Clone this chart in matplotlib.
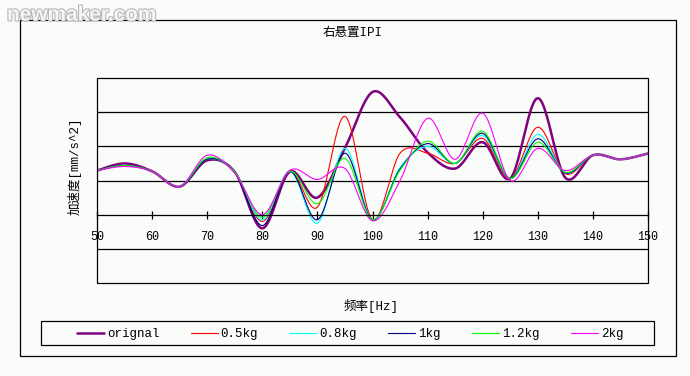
import numpy as np
import matplotlib
matplotlib.use('Agg')
import matplotlib.pyplot as plt
from matplotlib.patches import Rectangle
import matplotlib.patheffects as pe

plt.rcParams['font.family'] = ['Liberation Mono', 'Noto Sans CJK SC', 'DejaVu Sans']

# frequency points [Hz]
freq = [50, 55, 60, 65, 70, 75, 80, 85, 90, 95, 100,
        105, 110, 115, 120, 125, 130, 135, 140, 145, 150]

orignal = [1.29, 1.50, 1.27, 0.82, 1.59, 1.25, -0.40, 1.26, 0.50, 1.95, 3.59,
           2.85, 1.82, 1.35, 2.12, 1.06, 3.41, 1.08, 1.74, 1.62, 1.79]
kg05 = [1.29, 1.44, 1.27, 0.82, 1.62, 1.25, -0.20, 1.27, 0.22, 2.88, -0.15,
        1.80, 1.80, 1.50, 2.23, 1.06, 2.56, 1.20, 1.74, 1.62, 1.79]
kg08 = [1.29, 1.44, 1.27, 0.82, 1.62, 1.25, -0.15, 1.27, -0.25, 1.94, -0.15,
        1.38, 2.00, 1.50, 2.32, 1.06, 2.35, 1.22, 1.74, 1.62, 1.79]
kg1 = [1.29, 1.44, 1.27, 0.82, 1.62, 1.25, -0.32, 1.27, -0.15, 1.80, -0.15,
       1.34, 2.08, 1.50, 2.38, 1.06, 2.22, 1.22, 1.74, 1.62, 1.79]
kg12 = [1.29, 1.44, 1.27, 0.82, 1.67, 1.25, -0.08, 1.27, 0.32, 1.65, -0.15,
        1.30, 2.15, 1.50, 2.44, 1.06, 2.12, 1.24, 1.74, 1.62, 1.79]
kg2 = [1.29, 1.41, 1.27, 0.82, 1.74, 1.22, 0.00, 1.30, 1.03, 1.35, -0.18,
       1.00, 2.82, 1.62, 2.97, 1.00, 1.94, 1.29, 1.74, 1.62, 1.79]

labels = ['orignal', '0.5kg', '0.8kg', '1kg', '1.2kg', '2kg']
series = [orignal, kg05, kg08, kg1, kg12, kg2]
colors = ['#800080', '#ff0000', '#00ffff', '#000080', '#00ff00', '#ff00ff']
widths = [1.8, 0.8, 0.8, 0.8, 0.8, 0.8]
xticks = [50, 60, 70, 80, 90, 100, 110, 120, 130, 140, 150]


def smooth(x, y, n=24):
    # excel style smoothed line (catmull-rom bezier)
    x = np.asarray(x, float)
    y = np.asarray(y, float)
    px = np.concatenate([[x[0]], x, [x[-1]]])
    py = np.concatenate([[y[0]], y, [y[-1]]])
    t = np.linspace(0, 1, n, endpoint=False)
    xs, ys = [], []
    for i in range(1, len(px) - 2):
        p0 = np.array([px[i], py[i]])
        p3 = np.array([px[i + 1], py[i + 1]])
        p1 = p0 + (np.array([px[i + 1], py[i + 1]]) - np.array([px[i - 1], py[i - 1]])) / 6
        p2 = p3 - (np.array([px[i + 2], py[i + 2]]) - np.array([px[i], py[i]])) / 6
        b = ((1 - t) ** 3)[:, None] * p0 + (3 * (1 - t) ** 2 * t)[:, None] * p1 \
            + (3 * (1 - t) * t ** 2)[:, None] * p2 + (t ** 3)[:, None] * p3
        xs.extend(b[:, 0])
        ys.extend(b[:, 1])
    xs.append(x[-1])
    ys.append(y[-1])
    return np.array(xs), np.array(ys)


bg = '#f9fcf9'
fig = plt.figure(figsize=(6.9, 3.76), dpi=100, facecolor=bg)
W, H = 690.0, 376.0

ax = fig.add_axes([97 / W, 1 - 283 / H, 551 / W, 205 / H])
ax.set_facecolor(bg)

handles = []
for vals, c, lw, lab in zip(series, colors, widths, labels):
    sx, sy = smooth(freq, vals)
    h, = ax.plot(sx, sy, color=c, lw=lw, label=lab, solid_capstyle='round')
    handles.append(h)

ax.set_xlim(50, 150)
ax.set_ylim(-2, 4)
ax.set_yticks([-1, 1, 2, 3])
ax.yaxis.grid(True, color='black', lw=0.9)
ax.tick_params(axis='y', length=0, labelleft=False)
ax.set_axisbelow(True)

for s in ['top', 'left', 'right']:
    ax.spines[s].set_visible(False)
ax.spines['bottom'].set_position(('data', 0))
ax.spines['bottom'].set_linewidth(0.9)
ax.set_xticks(xticks)
ax.tick_params(axis='x', direction='inout', length=6, width=0.9, pad=9, labelsize=8.5)
ax.add_patch(Rectangle((0, 0), 1, 1, transform=ax.transAxes, fill=False,
                       lw=0.9, ec='black', zorder=3, clip_on=False))

# outer chart frame
fig.patches.append(Rectangle((20 / W, 1 - 356 / H), 656 / W, 336 / H, transform=fig.transFigure,
                             fill=False, lw=0.9, ec='black'))
# legend frame
fig.patches.append(Rectangle((41 / W, 1 - 345 / H), 613 / W, 24 / H, transform=fig.transFigure,
                             fill=False, lw=0.9, ec='black'))

fig.text(353 / W, 1 - 33 / H, '右悬置IPI', ha='center', va='center', fontsize=9)
fig.text(75 / W, 1 - 166 / H, '加速度[mm/s^2]', ha='center', va='center', rotation=90, fontsize=9)
fig.text(371 / W, 1 - 306 / H, '频率[Hz]', ha='center', va='center', fontsize=9)

fig.legend(handles, labels, ncol=6, loc='center', bbox_to_anchor=(350 / W, 1 - 334 / H),
           frameon=False, fontsize=9, handlelength=2.15, handletextpad=0.25, columnspacing=2.5)

fig.text(7 / W, 1 - 15 / H, 'newmaker.com', ha='left', va='center', fontsize=15,
         family='Liberation Sans', weight='bold', color='#f6f6f6',
         path_effects=[pe.withStroke(linewidth=1.6, foreground='#b8b8b8')])

fig.savefig('out.png', dpi=100, facecolor=bg)
